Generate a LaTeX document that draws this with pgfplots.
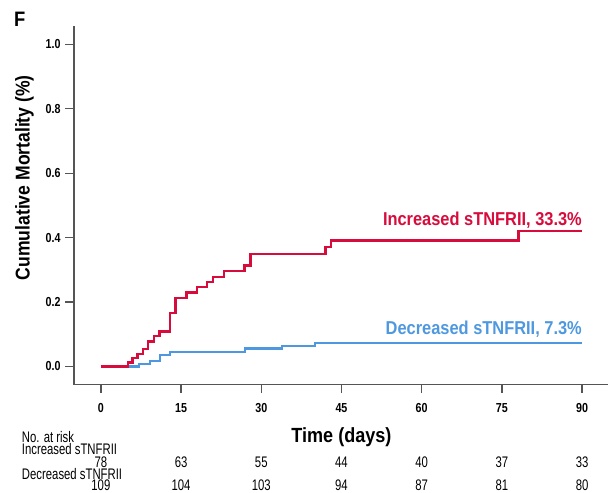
\documentclass[border=0pt]{standalone}
\usepackage{fontspec}
\setmainfont{Liberation Sans}
\newfontfamily\tickfont[FakeStretch=0.82]{Liberation Sans}
\newfontfamily\labfont[FakeStretch=0.88]{Liberation Sans}
\newfontfamily\riskfont[FakeStretch=0.74]{Liberation Sans}
\usepackage{pgfplots}
\pgfplotsset{compat=1.18}
\definecolor{kmred}{RGB}{215,12,60}
\definecolor{kmblue}{RGB}{78,152,224}
\definecolor{axgray}{RGB}{85,85,85}

\begin{document}
\begin{tikzpicture}
\begin{axis}[
  at={(0,0)}, anchor=south west,
  scale only axis,
  width=401.25pt, height=269.25pt,
  xmin=-5.04, xmax=94.9,
  ymin=-0.056, ymax=1.057,
  axis lines=left,
  axis line style={-, draw=axgray, line width=1.1pt},
  tick align=outside,
  major tick length=6.5pt,
  tick style={draw=axgray, line width=1pt},
  xtick={0,15,30,45,60,75,90},
  ytick={0,0.2,0.4,0.6,0.8,1.0},
  yticklabels={0.0,0.2,0.4,0.6,0.8,1.0},
  /pgf/number format/assume math mode=true,
  ticklabel style={font=\tickfont\bfseries\fontsize{9.8}{11}\selectfont},
  xticklabel style={yshift=-4pt},
  clip=false,
]
% decreased sTNFRII
\addplot[const plot, kmblue, line width=1.6pt] coordinates {
  (0,0) (7.1,0.009) (9.15,0.018) (11.0,0.035) (12.9,0.046)
  (27.0,0.056) (33.9,0.064) (40.0,0.073) (90,0.073)
};
% increased sTNFRII
\addplot[const plot, kmred, line width=1.8pt] coordinates {
  (0,0) (5.1,0.012) (5.9,0.026) (6.85,0.039) (7.9,0.054) (8.85,0.078)
  (9.95,0.095) (11.0,0.109) (12.9,0.166) (13.95,0.213) (16.0,0.230)
  (18.0,0.246) (19.9,0.262) (21.0,0.278) (23.0,0.297) (26.9,0.313)
  (28.0,0.349) (42.0,0.371) (43.05,0.391) (78.1,0.42) (90,0.42)
};

% numbers at risk
\addplot[draw=none, mark=none, nodes near coords, point meta=explicit symbolic,
  every node near coord/.append style={anchor=base, inner sep=0pt,
    font=\riskfont\fontsize{11.5}{12}\selectfont}]
  coordinates {
  (0,-0.312)[78] (15,-0.312)[63] (30,-0.312)[55] (45,-0.312)[44]
  (60,-0.312)[40] (75,-0.312)[37] (90,-0.312)[33]
};
\addplot[draw=none, mark=none, nodes near coords, point meta=explicit symbolic,
  every node near coord/.append style={anchor=base, inner sep=0pt,
    font=\riskfont\fontsize{11.5}{12}\selectfont}]
  coordinates {
  (0,-0.386)[109] (15,-0.386)[104] (30,-0.386)[103] (45,-0.386)[94]
  (60,-0.386)[87] (75,-0.386)[81] (90,-0.386)[80]
};

\node[anchor=base east, inner sep=0pt, text=kmred, font=\labfont\bfseries\fontsize{14}{16}\selectfont]
  at (axis cs:90,0.437) {Increased sTNFRII, 33.3\%};
\node[anchor=base east, inner sep=0pt, text=kmblue, font=\labfont\bfseries\fontsize{14}{16}\selectfont]
  at (axis cs:90,0.099) {Decreased sTNFRII, 7.3\%};

\node[rotate=90, inner sep=0pt, font=\labfont\bfseries\fontsize{15}{17}\selectfont]
  at (axis cs:-14.3,0.586) {Cumulative Mortality (\%)};
\node[anchor=base, inner sep=0pt, font=\labfont\bfseries\fontsize{15.4}{17}\selectfont]
  at (axis cs:45,-0.236) {Time (days)};
\node[anchor=base west, inner sep=0pt, font=\labfont\bfseries\fontsize{15.7}{17}\selectfont]
  at (axis cs:-16.25,1.055) {F};

\node[anchor=base west, inner sep=0pt, font=\riskfont\fontsize{11.5}{12}\selectfont]
  at (axis cs:-14.8,-0.236) {No. at risk};
\node[anchor=base west, inner sep=0pt, font=\riskfont\fontsize{11.5}{12}\selectfont]
  at (axis cs:-14.8,-0.274) {Increased sTNFRII};
\node[anchor=base west, inner sep=0pt, font=\riskfont\fontsize{11.5}{12}\selectfont]
  at (axis cs:-14.8,-0.350) {Decreased sTNFRII};
\end{axis}
\path (-55.5pt,-81pt) rectangle (401.25pt,288.75pt);
\end{tikzpicture}
\end{document}
